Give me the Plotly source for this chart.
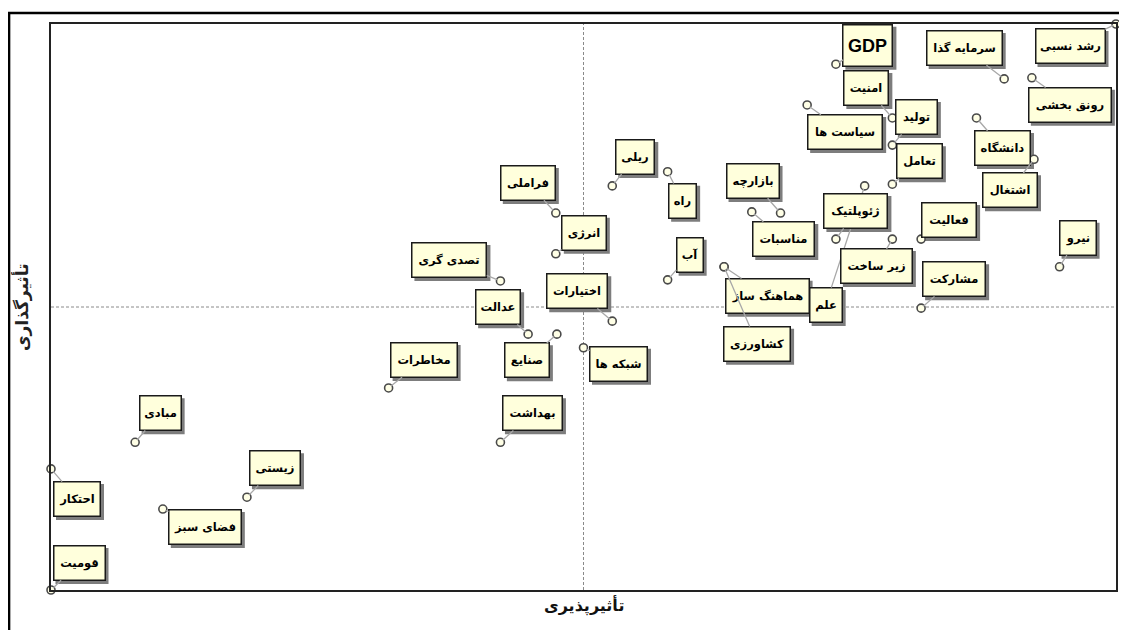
import plotly.graph_objects as go

# ---- data ----
names = ["رشد نسبی", "سرمایه گذا", "رونق بخشی", "GDP", "امنیت", "سیاست ها", "تولید",
         "تعامل", "دانشگاه", "اشتغال", "نیرو", "فعالیت", "مشارکت", "علم", "ژئوپلتیک",
         "زیر ساخت", "بازارچه", "مناسبات", "هماهنگ ساز", "کشاورزی", "راه", "آب", "ریلی",
         "فراملی", "انرژی", "تصدی گری", "اختیارات", "عدالت", "صنایع", "شبکه ها",
         "مخاطرات", "بهداشت", "مبادی", "زیستی", "فضای سبز", "احتکار", "قومیت"]
dependence = [100.0, 89.5, 92.1, 73.7, 79.0, 71.0, 79.0,
              79.0, 86.9, 92.3, 94.7, 81.7, 81.7, 76.4, 73.7,
              79.0, 68.5, 65.8, 63.2, 63.2, 57.9, 57.9, 52.7,
              47.4, 47.4, 42.2, 52.7, 44.8, 47.5, 50.0,
              31.7, 42.2, 7.9, 18.4, 10.5, 0.0, 0.0]
influence = [100.0, 90.3, 90.5, 92.9, 83.4, 85.7, 78.6,
             71.7, 83.4, 76.1, 57.1, 62.0, 49.8, 71.4, 62.0,
             62.0, 66.6, 66.8, 57.1, 57.1, 73.9, 54.8, 71.4,
             66.6, 59.4, 54.6, 47.5, 45.2, 45.2, 42.8,
             35.7, 26.1, 26.1, 16.4, 14.3, 21.4, 0.0]

# ---- layout-only settings: label box offsets (px) and inner box widths (px) ----
label_dx = [-46, -40, 38, 32, -26, 38, 24, 27, 26, -24, 18, 28, 33, -39, 20,
            -16, -28, 32, 43, 33, 15, 22, 23, -28, 28, -51, -35, -30, -30, 35,
            35, 32, 25, 28, 42, 26, 28]
label_dy = [22, -31, 27, -19, -30, 27, -28, -23, 30, 31, -29, -19, -29, 119, -28,
            27, -32, 27, 29, 77, 29, -25, -29, -30, -21, -21, -30, -27, 26, 16,
            -28, -29, -29, -29, 18, 30, -27]
box_w = [64, 70, 77, 44, 39, 69, 36, 40, 50, 49, 31, 49, 57, 27, 58,
         66, 47, 56, 78, 61, 22, 21, 33, 49, 39, 69, 55, 39, 39, 52,
         61, 54, 36, 45, 67, 41, 46]

x_title = "تأثیرپذیری"
y_title = "تأثیرگذاری"

# the page has an 8px body margin and only ~1111px of width is visible
W, H = 1111, 622
L, R, T, B = 43, 1, 16, 40
PW, PH = W - L - R, H - T - B
PAD, BW = 2, 1.5


def py(fig_y):
    return (T + PH - fig_y) / PH


def px(fig_x):
    return (fig_x - L) / PW


fig = go.Figure()

fig.add_trace(go.Scatter(
    x=dependence, y=influence, mode="markers",
    marker=dict(size=8, color="#FFFFE6", line=dict(color="#4a4a4a", width=1.6)),
    cliponaxis=False, hoverinfo="text", text=names, showlegend=False))

shapes = [
    # quadrant cross-hairs
    dict(type="line", xref="x", yref="paper", x0=50, x1=50, y0=0, y1=1,
         line=dict(color="#8a8a8a", width=1, dash="3px,2px"), layer="below"),
    dict(type="line", xref="paper", yref="y", x0=0, x1=1, y0=50, y1=50,
         line=dict(color="#8a8a8a", width=1, dash="3px,2px"), layer="below"),
]

annotations = []
for n, xv, yv, dx, dy, bw in zip(names, dependence, influence, label_dx, label_dy, box_w):
    is_gdp = n == "GDP"
    fnt = dict(family="Arial, Liberation Sans, sans-serif", size=18) if is_gdp else \
        dict(family="DejaVu Sans", size=11.5)
    h = 36 if is_gdp else 29
    ow = bw + 2 * (PAD + BW)
    oh = h + 2 * (PAD + BW)
    # drop shadow (pixel-sized rectangle anchored on the point)
    shapes.append(dict(
        type="rect", xref="x", yref="y", xsizemode="pixel", ysizemode="pixel",
        xanchor=xv, yanchor=yv,
        x0=dx - ow / 2 + 3, x1=dx + ow / 2 + 3,
        y0=-dy - oh / 2 - 3, y1=-dy + oh / 2 - 3,
        fillcolor="#7d7d7d", line=dict(width=0), layer="below"))
    # box + leader line
    annotations.append(dict(
        x=xv, y=yv, xref="x", yref="y", ax=dx, ay=dy, text="<b>%s</b>" % n,
        showarrow=True, arrowcolor="#a8a8a8", arrowwidth=1.3, arrowhead=0,
        standoff=3, width=bw, height=h, borderpad=PAD, borderwidth=BW,
        bgcolor="#FFFFDC", bordercolor="#1a1a1a",
        font=dict(fnt, color="#000000")))

# axis titles
annotations.append(dict(
    x=0.5, y=py(597), xref="paper", yref="paper", showarrow=False,
    xanchor="center", yanchor="middle",
    text="<b>%s</b>" % x_title, font=dict(family="DejaVu Sans", size=16, color="#111")))
annotations.append(dict(
    x=px(14), y=0.5, xref="paper", yref="paper", showarrow=False,
    xanchor="center", yanchor="middle",
    text="<b>%s</b>" % y_title, textangle=-90,
    font=dict(family="DejaVu Sans", size=17, color="#222")))

# outer frame
shapes.append(dict(
    type="rect", xref="paper", yref="paper",
    x0=px(1), x1=px(1135), y0=py(650), y1=py(5),
    line=dict(color="#000", width=2.5), fillcolor="rgba(0,0,0,0)"))

fig.update_layout(
    width=W, height=H, margin=dict(l=L, r=R, t=T, b=B),
    paper_bgcolor="white", plot_bgcolor="white",
    xaxis=dict(range=[0, 100], showgrid=False, zeroline=False, showticklabels=False,
               ticks="", showline=True, mirror=True, linecolor="#222", linewidth=1.5),
    yaxis=dict(range=[0, 100], showgrid=False, zeroline=False, showticklabels=False,
               ticks="", showline=True, mirror=True, linecolor="#222", linewidth=1.5),
    annotations=annotations, shapes=shapes, showlegend=False)

fig.write_html("out.html")
